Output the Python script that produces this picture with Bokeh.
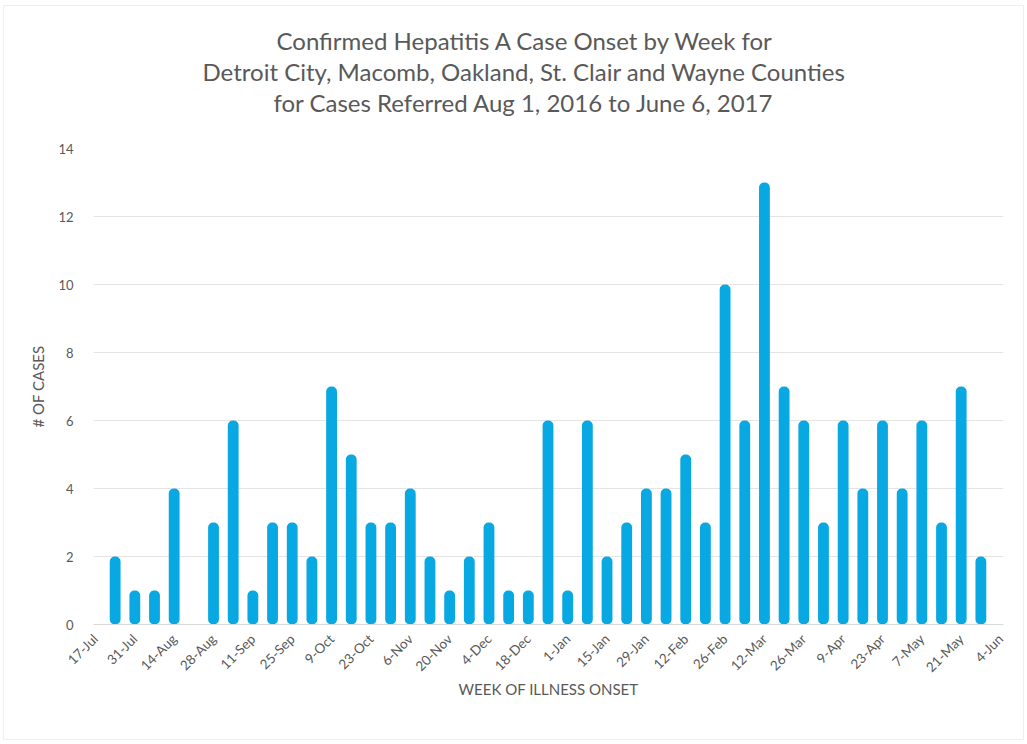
from bokeh.plotting import figure
from bokeh.models import FixedTicker, Title, ColumnDataSource
from bokeh.embed import file_html
from bokeh.resources import INLINE
import math

weeks = ["17-Jul", "24-Jul", "31-Jul", "7-Aug", "14-Aug", "21-Aug", "28-Aug", "4-Sep",
         "11-Sep", "18-Sep", "25-Sep", "2-Oct", "9-Oct", "16-Oct", "23-Oct", "30-Oct",
         "6-Nov", "13-Nov", "20-Nov", "27-Nov", "4-Dec", "11-Dec", "18-Dec", "25-Dec",
         "1-Jan", "8-Jan", "15-Jan", "22-Jan", "29-Jan", "5-Feb", "12-Feb", "19-Feb",
         "26-Feb", "5-Mar", "12-Mar", "19-Mar", "26-Mar", "2-Apr", "9-Apr", "16-Apr",
         "23-Apr", "30-Apr", "7-May", "14-May", "21-May", "28-May", "4-Jun"]
cases = [0, 2, 1, 1, 4, 0, 3, 6,
         1, 3, 3, 2, 7, 5, 3, 3,
         4, 2, 1, 2, 3, 1, 1, 6,
         1, 6, 2, 3, 4, 4, 5, 3,
         10, 6, 13, 7, 6, 3, 6, 4,
         6, 4, 6, 3, 7, 2, 0]
y_ticks = [0, 2, 4, 6, 8, 10, 12, 14]

title_lines = ["Confirmed Hepatitis A Case Onset by Week for",
               "Detroit City, Macomb, Oakland, St. Clair and Wayne Counties",
               "for Cases Referred Aug 1, 2016 to June 6, 2017"]
title_offsets = [183, 109, 180]

FONT = "Lato"
GREY = "#595959"

idx = [i for i, v in enumerate(cases) if v > 0]
src = ColumnDataSource(dict(x=idx, top=[cases[i] for i in idx]))

p = figure(width=1021, height=735, output_backend="svg", toolbar_location=None,
           x_range=(-0.1, 46.15), y_range=(0, 14),
           min_border_left=89, min_border_right=22, min_border_top=0, min_border_bottom=117)
p.styles = {"margin-left": "3px", "margin-top": "5px", "border": "1px solid #eeeeee"}

p.vbar(x="x", top="top", width=0.55, source=src, fill_color="#08A8E2",
       line_color=None, border_radius=5)

# spacer between title block and plot frame
p.add_layout(Title(text=" ", text_font=FONT, text_font_size="24px", standoff=1), "above")
# titles (added bottom-up)
for t, off in reversed(list(zip(title_lines, title_offsets))):
    ttl = Title(text=t, align="left", offset=off, text_font=FONT, text_font_size="24px",
                text_font_style="normal", text_color=GREY, standoff=0)
    p.add_layout(ttl, "above")
# spacer at the very top
p.add_layout(Title(text=" ", text_font=FONT, text_font_size="12px", standoff=0), "above")

p.outline_line_color = None
p.background_fill_color = "white"
p.border_fill_color = "white"

p.xgrid.grid_line_color = None
p.ygrid.grid_line_color = "#e4e4e4"
p.ygrid.grid_line_width = 1

p.yaxis.ticker = FixedTicker(ticks=y_ticks)
p.yaxis.axis_line_color = None
p.yaxis.major_tick_line_color = None
p.yaxis.minor_tick_line_color = None
p.yaxis.major_label_text_font = FONT
p.yaxis.major_label_text_font_size = "13px"
p.yaxis.major_label_text_color = GREY
p.yaxis.major_label_standoff = 14
p.yaxis.axis_label = "# OF CASES"
p.yaxis.axis_label_text_font = FONT
p.yaxis.axis_label_text_font_size = "15px"
p.yaxis.axis_label_text_font_style = "normal"
p.yaxis.axis_label_text_color = GREY
p.yaxis.axis_label_standoff = 8

label_idx = list(range(0, len(weeks), 2))
p.xaxis.ticker = FixedTicker(ticks=label_idx)
p.xaxis.major_label_overrides = {i: weeks[i] for i in label_idx}
p.xaxis.major_label_orientation = math.pi / 4
p.xaxis.axis_line_color = "#d9d9d9"
p.xaxis.major_tick_line_color = None
p.xaxis.minor_tick_line_color = None
p.xaxis.major_label_text_font = FONT
p.xaxis.major_label_text_font_size = "13.5px"
p.xaxis.major_label_text_color = GREY
p.xaxis.major_label_standoff = 6
p.xaxis.axis_label = "WEEK OF ILLNESS ONSET"
p.xaxis.axis_label_text_font = FONT
p.xaxis.axis_label_text_font_size = "15px"
p.xaxis.axis_label_text_font_style = "normal"
p.xaxis.axis_label_text_color = GREY
p.xaxis.axis_label_standoff = -4

open("out.html", "w").write(file_html(p, INLINE))
